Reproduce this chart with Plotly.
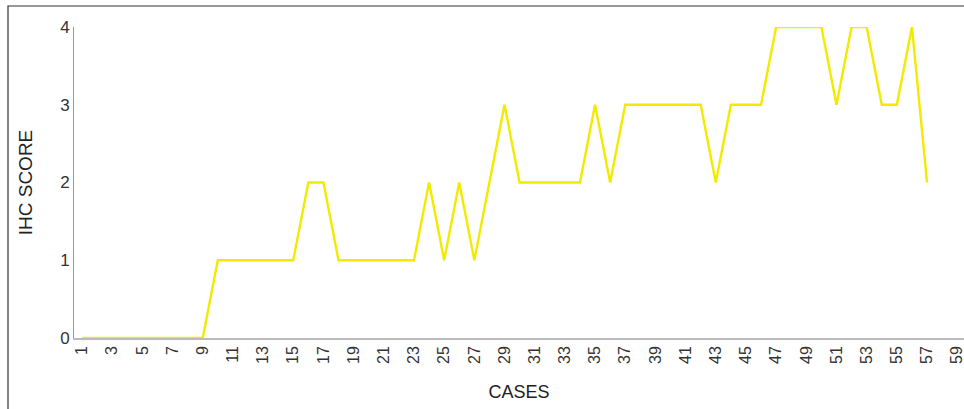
import plotly.graph_objects as go

cases = list(range(1, 58))
ihc_score = [0, 0, 0, 0, 0, 0, 0, 0, 0,
             1, 1, 1, 1, 1, 1,
             2, 2,
             1, 1, 1, 1, 1, 1,
             2, 1, 2, 1, 2, 3,
             2, 2, 2, 2, 2,
             3, 2,
             3, 3, 3, 3, 3, 3,
             2,
             3, 3, 3,
             4, 4, 4, 4,
             3, 4, 4, 3, 3, 4, 2]
tick_vals = list(range(1, 60, 2))
tick_text = [str(v) for v in tick_vals]

fig = go.Figure()
fig.add_trace(go.Scatter(x=cases, y=ihc_score, mode="lines", cliponaxis=False,
                         line=dict(color="#F2EB00", width=2.4), showlegend=False))

font_family = "Liberation Sans, Arial, sans-serif"
fig.update_layout(
    width=964, height=409,
    margin=dict(l=74, r=0, t=27, b=71),
    paper_bgcolor="white", plot_bgcolor="white",
    font=dict(family=font_family, color="#333333"),
    xaxis=dict(range=[0.47, 59.45], tickmode="array", tickvals=tick_vals, ticktext=tick_text,
               tickangle=-90, tickfont=dict(size=16, color="#333333"), automargin=False,
               ticklabeloverflow="allow",
               showgrid=False, zeroline=False, showline=True, linecolor="#BBBBBB", linewidth=1.5,
               layer="below traces",
               ticks="", title=dict(text="CASES", font=dict(size=18, color="#222222"), standoff=22)),
    yaxis=dict(range=[0, 4], tickvals=[0, 1, 2, 3, 4], tickfont=dict(size=17, color="#333333"),
               automargin=False, layer="below traces",
               showgrid=False, zeroline=False, showline=True, linecolor="#999999", linewidth=1,
               ticks="", title=dict(text="IHC SCORE", font=dict(size=19, color="#222222"), standoff=22)),
    shapes=[dict(type="rect", xref="paper", yref="paper",
                 x0=(8 - 74) / 890, x1=1.2, y0=-0.5, y1=1 + (27 - 6) / 311,
                 line=dict(color="#333333", width=1.2), fillcolor="rgba(0,0,0,0)", layer="below")],
)
fig.write_html("out.html", config={"displayModeBar": False},
               post_script="document.body.style.margin='0';document.body.style.padding='0';")
